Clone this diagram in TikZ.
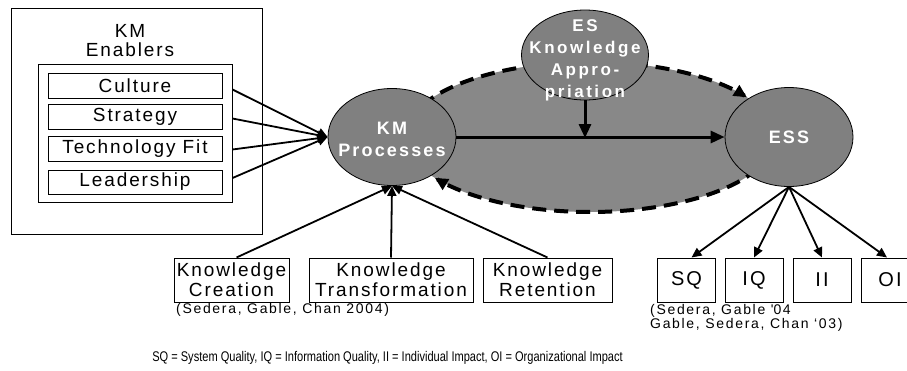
\documentclass[tikz,border=0pt]{standalone}
\usepackage{fontspec}
\setmainfont{Liberation Sans}
\newfontfamily\labf[LetterSpace=10]{Liberation Sans}
\newfontfamily\citef[LetterSpace=12]{Liberation Sans}
\newfontfamily\boldf[LetterSpace=15]{Liberation Sans Bold}
\newfontfamily\boldg[LetterSpace=12]{Liberation Sans Bold}
\newfontfamily\footf[FakeStretch=0.79]{Liberation Sans}
\usetikzlibrary{arrows.meta,shapes.geometric}
\definecolor{nodegray}{RGB}{128,128,128}
\definecolor{biggray}{RGB}{136,136,136}
\tikzset{
  framebox/.style={draw=black, line width=1pt, inner sep=0pt, fill=white},
  labbox/.style={framebox, align=center, font=\labf\fontsize{19}{20}\selectfont},
  metricbox/.style={framebox, minimum width=58pt, minimum height=44pt, font=\labf\fontsize{20}{20}\selectfont},
  ellnode/.style={ellipse, draw=black, line width=0.8pt, fill=nodegray, inner sep=0pt},
  elltext/.style={text=white, align=center, inner sep=0pt, font=\boldg\fontsize{18}{22}\selectfont},
  esatext/.style={text=white, align=center, inner sep=0pt, font=\boldf\fontsize{17}{22}\selectfont},
  thinarrow/.style={line width=1.8pt, -{Triangle[length=10pt,width=9pt]}},
  thickarrow/.style={line width=3pt, -{Triangle[length=14pt,width=12pt]}},
  dasharc/.style={line width=4pt, dash pattern=on 14pt off 8pt, -{Triangle[length=13pt,width=12pt]}},
  citetext/.style={inner sep=0pt, align=left, font=\citef\fontsize{14}{10.5}\selectfont}
}
\begin{document}
\begin{tikzpicture}[x=1pt,y=-1pt]
\useasboundingbox (0,0) rectangle (907,370);
\clip (0,0) rectangle (907,370);

% KM enablers
\node[framebox, minimum width=251pt, minimum height=226pt] (outer) at (136.5,121) {};
\node[inner sep=0pt, align=center, font=\labf\fontsize{19}{19}\selectfont] (title) at (130,41) {KM\\Enablers};
\node[framebox, minimum width=194pt, minimum height=138pt] (inner) at (135,133) {};
\node[labbox, minimum width=174pt, minimum height=25pt] (culture) at (135,85.5) {Culture};
\node[labbox, minimum width=174pt, minimum height=25pt] (strategy) at (135,116.5) {Strategy};
\node[labbox, minimum width=174pt, minimum height=25pt] (techfit) at (135,148.5) {Technology Fit};
\node[labbox, minimum width=174pt, minimum height=24pt] (leader) at (135,182) {Leadership};

% big grey ellipse with dashed border arrows
\node[ellipse, fill=biggray, minimum width=370pt, minimum height=150pt, inner sep=0pt] (big) at (590,137) {};
\draw[dasharc] plot[domain=205:328, samples=90] ({590+185*cos(\x)},{137+75*sin(\x)});
\draw[dasharc] plot[domain=25:147, samples=90] ({590+185*cos(\x)},{137+75*sin(\x)});

% ellipses
\node[ellnode, minimum width=128pt, minimum height=97pt] (kmp) at (392,137) {};
\node[ellnode, minimum width=127pt, minimum height=90pt] (esa) at (585,55) {};
\node[ellnode, minimum width=128pt, minimum height=99pt] (ess) at (789,137) {};
\node[elltext] (kmpt) at ([yshift=-2pt]kmp) {KM\\Processes};
\node[esatext] (esat) at ([yshift=-5pt]esa) {ES\\Knowledge\\Appro-\\priation};
\node[elltext] (esst) at (ess) {ESS};

% main arrows
\draw[thickarrow] (kmp.east) -- (ess.west);
\draw[thickarrow] (esa.south) -- ([yshift=-1pt]esa.south |- kmp.east);

% enabler arrows
\draw[thinarrow] ([yshift=-4pt]inner.east |- culture) -- (kmp.west);
\draw[thinarrow] ([yshift=-2pt]inner.east |- strategy) -- (kmp.west);
\draw[thinarrow] ([yshift=-1pt]inner.east |- techfit) -- (kmp.west);
\draw[thinarrow] ([yshift=4pt]inner.east |- leader) -- (kmp.west);

% knowledge boxes
\node[labbox, minimum width=115pt, minimum height=44pt] (kc) at (231.5,280) {Knowledge\\Creation};
\node[labbox, minimum width=164pt, minimum height=44pt] (kt) at (391,280) {Knowledge\\Transformation};
\node[labbox, minimum width=129pt, minimum height=44pt] (kr) at (547.5,280) {Knowledge\\Retention};
\draw[thinarrow] ([xshift=5pt]kc.north) -- (kmp.south);
\draw[thinarrow] (kt.north) -- (kmp.south);
\draw[thinarrow] (kr.north) -- (kmp.south);
\node[citetext, anchor=west] (cite1) at (176,310) {(Sedera, Gable, Chan 2004)};

% ESS dimensions
\node[metricbox] (sq) at (686.5,280) {SQ};
\node[metricbox] (iq) at (754,280) {IQ};
\node[metricbox] (ii) at (822,280) {II};
\node[metricbox] (oi) at (890,280) {OI};
\draw[thinarrow] (ess.south) -- ([xshift=5pt]sq.north);
\draw[thinarrow] (ess.south) -- (iq.north);
\draw[thinarrow] (ess.south) -- (ii.north);
\draw[thinarrow] (ess.south) -- ([xshift=-3pt]oi.north);
\node[citetext, anchor=north west] (cite2) at (650,304) {(Sedera, Gable \textquotesingle 04\\Gable, Sedera, Chan ‘03)};

% footer
\node[inner sep=0pt, font=\footf\fontsize{14}{14}\selectfont] (footer) at (387.5,358) {SQ = System Quality, IQ = Information Quality, II = Individual Impact, OI = Organizational Impact};
\end{tikzpicture}
\end{document}
